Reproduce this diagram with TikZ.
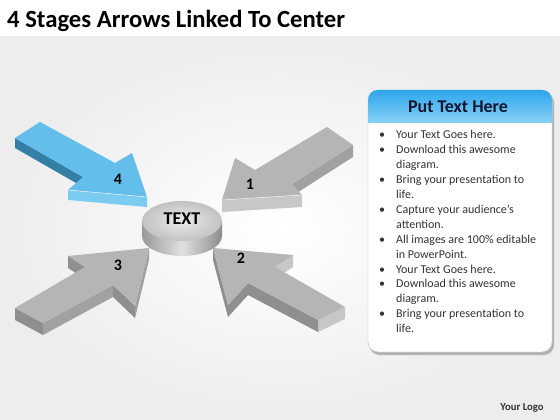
\documentclass[tikz,border=0pt]{standalone}
\usepackage{fontspec}
\setmainfont{Carlito}
\usetikzlibrary{calc}
\definecolor{skyblue}{HTML}{64BEEB}
\definecolor{deepblue}{HTML}{337FA6}
\definecolor{paleblue}{HTML}{7CCBF1}
\definecolor{headtop}{HTML}{2DA6EA}
\definecolor{headbot}{HTML}{86D0F6}
\definecolor{navy}{HTML}{151530}
\begin{document}
\begin{tikzpicture}[x=1pt,y=-1pt,
    grey top/.style={fill=black!29},
    grey dark/.style={fill=black!44},
    grey mid/.style={fill=black!37},
    grey light/.style={fill=black!22},
    numlabel/.style={font=\fontsize{16}{18}\selectfont\bfseries, text=black}]
\useasboundingbox (0,0) rectangle (560,420);
\fill[white] (0,0) rectangle (560,420);
\shade[inner color=white, outer color=black!7] (0,37) rectangle (560,420);

\node[anchor=base west, inner sep=0pt] (title) at (7,28) {\fontsize{24.7}{28}\selectfont\bfseries 4 Stages Arrows Linked To Center};

% stage 4
\coordinate (a4t1) at (40,122); \coordinate (a4j1) at (115,163); \coordinate (a4b1) at (132,153);
\coordinate (a4tip) at (147,197); \coordinate (a4b2) at (68,190); \coordinate (a4j2) at (83,177);
\coordinate (a4t2) at (15,138);
\fill[deepblue] (a4t2) -- (a4j2) -- ($(a4j2)+(0,10)$) -- ($(a4t2)+(0,10)$) -- cycle;
\fill[paleblue] (a4b2) -- (a4tip) -- ($(a4tip)+(0,10)$) -- ($(a4b2)+(0,10)$) -- cycle;
\fill[skyblue] (a4t1) -- (a4j1) -- (a4b1) -- (a4tip) -- (a4b2) -- (a4j2) -- (a4t2) -- cycle;
\draw[white, thin] (a4b2) -- (a4tip);

% stage 1
\coordinate (a1t1) at (327,127); \coordinate (a1j1) at (255,170); \coordinate (a1b1) at (235,158);
\coordinate (a1tip) at (222,200); \coordinate (a1b2) at (302,195); \coordinate (a1j2) at (292,184);
\coordinate (a1t2) at (353,145);
\fill[grey mid] (a1t2) -- (a1j2) -- ($(a1j2)+(0,12)$) -- ($(a1t2)+(0,12)$) -- cycle;
\fill[grey light] (a1tip) -- (a1b2) -- ($(a1b2)+(0,12)$) -- ($(a1tip)+(0,12)$) -- cycle;
\fill[grey top] (a1t1) -- (a1j1) -- (a1b1) -- (a1tip) -- (a1b2) -- (a1j2) -- (a1t2) -- cycle;
\draw[white, thin] (a1tip) -- (a1b2);

% stage 3
\coordinate (a3t1) at (15,308); \coordinate (a3j1) at (85,267); \coordinate (a3b1) at (68,256);
\coordinate (a3tip) at (149,248); \coordinate (a3b2) at (135,306); \coordinate (a3j2) at (113,285);
\coordinate (a3t2) at (43,323);
\fill[grey dark] (a3t1) -- (a3t2) -- ($(a3t2)+(0,12)$) -- ($(a3t1)+(0,12)$) -- cycle;
\fill[grey mid] (a3t2) -- (a3j2) -- ($(a3j2)+(0,12)$) -- ($(a3t2)+(0,12)$) -- cycle;
\fill[grey dark] (a3j2) -- (a3b2) -- ($(a3b2)+(0,12)$) -- ($(a3j2)+(0,12)$) -- cycle;
\fill[grey mid] (a3b2) -- (a3tip) -- ($(a3tip)+(0,12)$) -- ($(a3b2)+(0,12)$) -- cycle;
\fill[grey dark] (a3j1) -- (a3b1) -- ($(a3b1)+(0,12)$) -- ($(a3j1)+(0,12)$) -- cycle;
\fill[grey top] (a3t1) -- (a3j1) -- (a3b1) -- (a3tip) -- (a3b2) -- (a3j2) -- (a3t2) -- cycle;

% stage 2
\coordinate (a2t1) at (345,307); \coordinate (a2j1) at (275,267); \coordinate (a2b1) at (293,255);
\coordinate (a2tip) at (213,248); \coordinate (a2b2) at (228,305); \coordinate (a2j2) at (248,283);
\coordinate (a2t2) at (318,320);
\fill[grey light] (a2t1) -- (a2t2) -- ($(a2t2)+(0,12)$) -- ($(a2t1)+(0,12)$) -- cycle;
\fill[grey dark] (a2t2) -- (a2j2) -- ($(a2j2)+(0,12)$) -- ($(a2t2)+(0,12)$) -- cycle;
\fill[grey dark] (a2j2) -- (a2b2) -- ($(a2b2)+(0,12)$) -- ($(a2j2)+(0,12)$) -- cycle;
\fill[grey dark] (a2b2) -- (a2tip) -- ($(a2tip)+(0,12)$) -- ($(a2b2)+(0,12)$) -- cycle;
\fill[grey light] (a2j1) -- (a2b1) -- ($(a2b1)+(0,12)$) -- ($(a2j1)+(0,12)$) -- cycle;
\fill[grey top] (a2t1) -- (a2j1) -- (a2b1) -- (a2tip) -- (a2b2) -- (a2j2) -- (a2t2) -- cycle;

\node[numlabel] (n4) at (118,179) {4};
\node[numlabel] (n1) at (250,184) {1};
\node[numlabel] (n3) at (118,265) {3};
\node[numlabel] (n2) at (241,258) {2};

% center disc
\shade[left color=black!40, right color=black!45, middle color=black!12]
  (142,221) -- (142,236) arc[start angle=180, end angle=0, x radius=40, y radius=20] -- (222,221) -- cycle;
\shade[inner color=black!8, outer color=black!24] (182,221) ellipse[x radius=40, y radius=20];
\node[font=\fontsize{18}{20}\selectfont\bfseries] (center) at (182,219) {TEXT};

% text panel
\fill[black!30, rounded corners=10pt] (369.5,92.5) rectangle (554,355);
\draw[black!25, fill=white, rounded corners=10pt] (368,90) rectangle (552,352);
\begin{scope}
  \clip[rounded corners=10pt] (368,90) rectangle (552,352);
  \shade[top color=headtop, bottom color=headbot] (368,90) rectangle (552,122);
\end{scope}
\node[font=\fontsize{18}{20}\selectfont\bfseries, text=navy] (head) at (458,107) {Put Text Here};
\node[anchor=base west, inner sep=0pt, text=black!80, font=\fontsize{12}{14.9}\selectfont] (bullets) at (379,139)
  {\begin{tabular}[t]{@{}p{17pt}@{}l@{}}
   \textbullet & Your Text Goes here.\\
   \textbullet & Download this awesome\\
               & diagram.\\
   \textbullet & Bring your presentation to\\
               & life.\\
   \textbullet & Capture your audience’s\\
               & attention.\\
   \textbullet & All images are 100\% editable\\
               & in PowerPoint.\\
   \textbullet & Your Text Goes here.\\
   \textbullet & Download this awesome\\
               & diagram.\\
   \textbullet & Bring your presentation to\\
               & life.
  \end{tabular}};

\node[font=\fontsize{10.7}{12}\selectfont\bfseries, text=black!80] (logo) at (522,408) {Your Logo};
\end{tikzpicture}
\end{document}
